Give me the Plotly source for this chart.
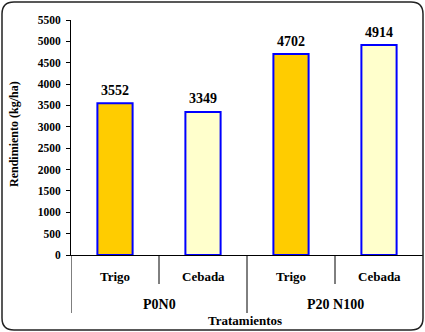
import plotly.graph_objects as go

# Yield data (kg/ha) by treatment and crop
groups = ["P0N0", "P0N0", "P20 N100", "P20 N100"]
crops = ["Trigo", "Cebada", "Trigo", "Cebada"]
yields = [3552, 3349, 4702, 4914]
bar_colors = ["#FFCC00", "#FFFFCC", "#FFCC00", "#FFFFCC"]
group_names = ["P0N0", "P20 N100"]
y_ticks = list(range(0, 5501, 500))

W, H = 425, 332
ML, MR, MT, MB = 71, 2, 20, 77
PW, PH = W - ML - MR, H - MT - MB

FONT = "Liberation Serif"


def px_x(px):
    return (px - ML) / PW


def px_y(py):
    return (H - MB - py) / PH


cats = [f"{g}|{c}" for g, c in zip(groups, crops)]

fig = go.Figure(
    go.Bar(
        x=list(range(len(cats))),
        y=yields,
        width=0.4,
        marker=dict(color=bar_colors, line=dict(color="#0000FF", width=2)),
        hoverinfo="skip",
    )
)

annotations = []
# value labels above bars
for i, v in enumerate(yields):
    annotations.append(dict(
        x=i, y=v, xref="x", yref="y", text=f"<b>{v}</b>", showarrow=False,
        yanchor="middle", yshift=13,
        font=dict(family=FONT, size=14, color="black"),
    ))
# crop labels
for i, c in enumerate(crops):
    annotations.append(dict(
        x=i, y=px_y(276), xref="x", yref="paper", text=f"<b>{c}</b>",
        showarrow=False, yanchor="middle",
        font=dict(family=FONT, size=13, color="black"),
    ))
# treatment group labels
for gi, g in enumerate(group_names):
    annotations.append(dict(
        x=gi * 2 + 0.5, y=px_y(304), xref="x", yref="paper", text=f"<b>{g}</b>",
        showarrow=False, yanchor="middle",
        font=dict(family=FONT, size=14, color="black"),
    ))
# axis titles
annotations.append(dict(
    x=px_x(245), y=px_y(320), xref="paper", yref="paper", text="<b>Tratamientos</b>",
    showarrow=False, yanchor="middle", xanchor="center",
    font=dict(family=FONT, size=13, color="black"),
))
annotations.append(dict(
    x=px_x(14), y=px_y(134), xref="paper", yref="paper",
    text="<b>Rendimiento (kg/ha)</b>", textangle=-90,
    showarrow=False, yanchor="middle", xanchor="center",
    font=dict(family=FONT, size=12, color="black"),
))

shapes = []
# category dividers below the axis
for xb, bottom in [(-0.5, 313), (0.5, 284), (1.5, 313), (2.5, 284)]:
    shapes.append(dict(
        type="line", xref="x", yref="paper", x0=xb, x1=xb,
        y0=0, y1=px_y(bottom), line=dict(color="black", width=1),
    ))

# rounded outer frame
x0, x1, y0, y1, r = 2, 423, 2, 330, 12
path = (
    f"M {px_x(x0 + r)},{px_y(y0)} L {px_x(x1 - r)},{px_y(y0)} "
    f"Q {px_x(x1)},{px_y(y0)} {px_x(x1)},{px_y(y0 + r)} "
    f"L {px_x(x1)},{px_y(y1 - r)} "
    f"Q {px_x(x1)},{px_y(y1)} {px_x(x1 - r)},{px_y(y1)} "
    f"L {px_x(x0 + r)},{px_y(y1)} "
    f"Q {px_x(x0)},{px_y(y1)} {px_x(x0)},{px_y(y1 - r)} "
    f"L {px_x(x0)},{px_y(y0 + r)} "
    f"Q {px_x(x0)},{px_y(y0)} {px_x(x0 + r)},{px_y(y0)} Z"
)
shapes.append(dict(type="path", xref="paper", yref="paper", path=path,
                   line=dict(color="#222222", width=1.5)))

fig.update_layout(
    width=W, height=H,
    margin=dict(l=ML, r=MR, t=MT, b=MB, pad=0),
    paper_bgcolor="white", plot_bgcolor="white",
    showlegend=False,
    font=dict(family=FONT, color="black"),
    annotations=annotations,
    shapes=shapes,
    xaxis=dict(
        range=[-0.5, 3.5], showticklabels=False, ticks="",
        showgrid=False, zeroline=False,
        showline=True, linecolor="black", linewidth=1,
    ),
    yaxis=dict(
        range=[0, 5500], tickvals=y_ticks,
        ticktext=[f"<b>{t}</b>" for t in y_ticks],
        ticks="outside", ticklen=4, tickcolor="black",
        ticklabelstandoff=3,
        showgrid=False, zeroline=False,
        showline=True, linecolor="black", linewidth=1,
        tickfont=dict(family=FONT, size=11.5, color="black"),
    ),
)

fig.write_html("out.html")
